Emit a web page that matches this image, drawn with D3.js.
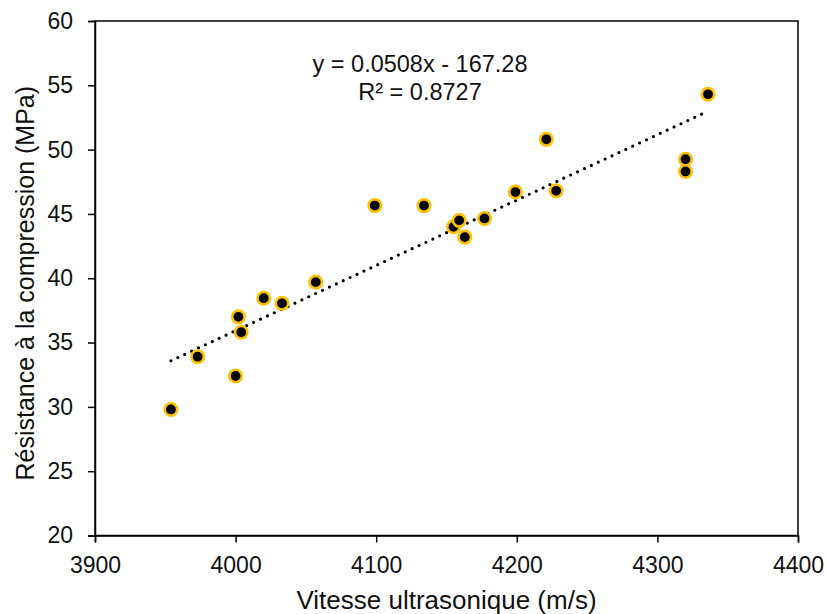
<!DOCTYPE html>
<html>
<head>
<meta charset="utf-8">
<script src="https://cdn.jsdelivr.net/npm/d3@7"></script>
<style>
  body { margin: 0; background: #fff; }
  svg { font-family: "Liberation Sans", Arial, sans-serif; }
</style>
</head>
<body>
<svg id="chart" width="827" height="614"></svg>
<script>
// vitesse (m/s) and résistance (MPa)
const vitesse = [3954, 3973, 4000, 4002, 4004, 4020, 4033, 4057, 4099, 4134,
                 4155, 4159, 4163, 4177, 4199, 4221, 4228, 4320, 4320, 4336];
const resistance = [29.8, 33.9, 32.4, 37.0, 35.8, 38.45, 38.05, 39.7, 45.65, 45.65,
                    44.0, 44.5, 43.2, 44.65, 46.7, 50.8, 46.8, 49.25, 48.3, 54.3];
const xTicks = [3900, 4000, 4100, 4200, 4300, 4400];
const yTicks = [20, 25, 30, 35, 40, 45, 50, 55, 60];
// trendline from the chart label
const slope = 0.0508;
const intercept = -167.28;
const equationLines = ["y = 0.0508x - 167.28", "R² = 0.8727"];

const margin = {top: 21, right: 29, bottom: 78.5, left: 95};
const svg = d3.select("#chart");
const W = +svg.attr("width"), H = +svg.attr("height");
const w = W - margin.left - margin.right;
const h = H - margin.top - margin.bottom;

const x = d3.scaleLinear().domain([3900, 4400]).range([0, w]);
const y = d3.scaleLinear().domain([20, 60]).range([h, 0]);

const g = svg.append("g").attr("transform", `translate(${margin.left},${margin.top})`);

// frame
g.append("rect")
  .attr("width", w).attr("height", h)
  .attr("fill", "none").attr("stroke", "#000").attr("stroke-width", 1.5);

const xAxis = g.append("g").attr("transform", `translate(0,${h})`)
  .call(d3.axisBottom(x).tickValues(xTicks).tickSize(7).tickPadding(14.5).tickFormat(d3.format("d")));
const yAxis = g.append("g")
  .call(d3.axisLeft(y).tickValues(yTicks).tickSize(7).tickPadding(15).tickFormat(d3.format("d")));

[xAxis, yAxis].forEach(a => {
  a.select(".domain").attr("stroke", "#000").attr("stroke-width", 1.5);
  a.selectAll(".tick line").attr("stroke", "#000").attr("stroke-width", 1.5);
  a.selectAll(".tick text").attr("fill", "#111").style("font-size", "23px")
    .style("font-family", '"Liberation Sans", Arial, sans-serif');
});

// dotted trendline
const xMin = d3.min(vitesse), xMax = d3.max(vitesse);
g.append("line")
  .attr("x1", x(xMin)).attr("y1", y(slope * xMin + intercept))
  .attr("x2", x(xMax)).attr("y2", y(slope * xMax + intercept))
  .attr("stroke", "#000").attr("stroke-width", 3.2)
  .attr("stroke-linecap", "round").attr("stroke-dasharray", "0 7.6");

// points
g.selectAll("circle.pt")
  .data(vitesse.map((v, i) => [v, resistance[i]]))
  .join("circle")
  .attr("class", "pt")
  .attr("cx", d => x(d[0])).attr("cy", d => y(d[1]))
  .attr("r", 6.2)
  .attr("fill", "#000").attr("stroke", "#FFC000").attr("stroke-width", 2.6);

// equation label
const eq = g.append("text")
  .attr("x", 420 - margin.left).attr("y", 72 - margin.top)
  .attr("text-anchor", "middle").attr("fill", "#111")
  .style("font-size", "23.5px");
eq.selectAll("tspan").data(equationLines).join("tspan")
  .attr("x", 420 - margin.left).attr("dy", (d, i) => i === 0 ? 0 : 27.5)
  .text(d => d);

// axis titles
svg.append("text")
  .attr("x", margin.left + w / 2).attr("y", 609)
  .attr("text-anchor", "middle").attr("fill", "#111")
  .style("font-size", "26px")
  .text("Vitesse ultrasonique (m/s)");

svg.append("text")
  .attr("transform", `translate(34,${margin.top + h / 2 + 5}) rotate(-90)`)
  .attr("text-anchor", "middle").attr("fill", "#111")
  .style("font-size", "25px")
  .text("Résistance à la compression (MPa)");
</script>
</body>
</html>
